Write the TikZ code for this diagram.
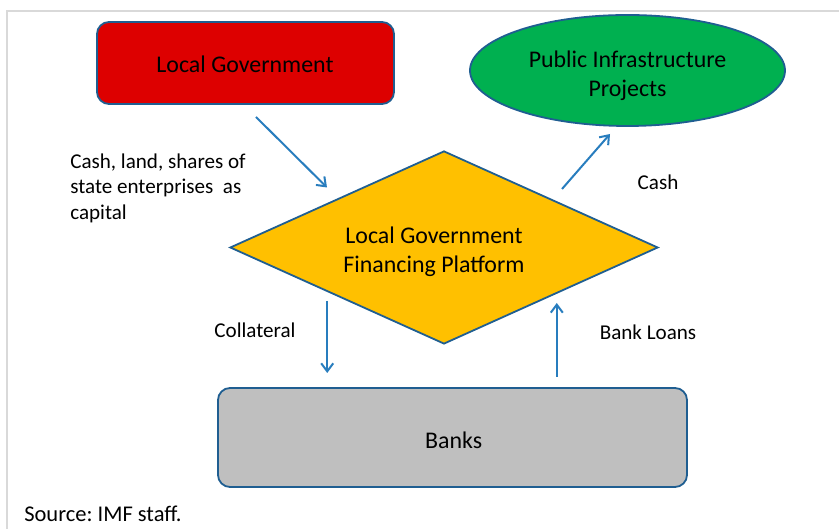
\documentclass[tikz,border=0pt]{standalone}
\usepackage{fontspec}
\setmainfont{Carlito}
\usetikzlibrary{arrows.meta,shapes.geometric}
\definecolor{govred}{RGB}{221,0,0}
\definecolor{projgreen}{RGB}{0,176,80}
\definecolor{platyellow}{RGB}{255,192,0}
\definecolor{bankgray}{RGB}{191,191,191}
\definecolor{edgeblue}{RGB}{31,94,145}
\definecolor{flowblue}{RGB}{40,125,190}
\definecolor{framegray}{RGB}{217,217,217}
\frenchspacing

\begin{document}
\begin{tikzpicture}[
	shapeline/.style={draw=edgeblue, line width=0.45mm},
	flow/.style={draw=flowblue, line width=0.5mm, -{Straight Barb[length=2mm,width=3mm]}},
	boxtext/.style={font=\fontsize{17}{20.5}\selectfont, align=center, inner sep=0},
	labeltext/.style={font=\fontsize{15}{18.2}\selectfont, align=left, inner sep=0}
	]
			%%%%% START %%%%%
			
			\useasboundingbox (0, 0) rectangle (20.975, 13.225);
			\draw[line width=0.3mm, color=framegray] (0.175, 0) -- (0.175, 12.95) -- (20.975, 12.95);
			
			\node[shapeline, fill=govred, rounded corners=3mm, minimum width=7.425cm, minimum height=2.05cm, boxtext] (localgov) at (6.1375, 11.65) {};
			\node[boxtext] (localgovtext) at (6.125, 11.61) {Local Government};
			\node[shapeline, fill=projgreen, ellipse, minimum width=7.875cm, minimum height=2.775cm, boxtext] (projects) at (15.6875, 11.4625) {};
			\node[boxtext] (projectstext) at (15.6875, 11.33) {Public Infrastructure\\Projects};
			\node[shapeline, fill=platyellow, diamond, aspect=2.2, minimum width=10.7cm, minimum height=4.825cm, boxtext] (platform) at (11.1, 7.0375) {};
			\node[boxtext] (platformtext) at (10.85, 6.93) {Local Government\\Financing Platform};
			\node[shapeline, fill=bankgray, rounded corners=3mm, minimum width=11.725cm, minimum height=2.475cm, boxtext] (banks) at (11.3125, 2.2875) {};
			\node[boxtext] (bankstext) at (11.34, 2.21) {Banks};
			
			\coordinate (govout) at (6.4, 10.3);
			\coordinate (platin) at (8.175, 8.5375);
			\coordinate (platout) at (14.05, 8.5);
			\coordinate (projin) at (15.25, 9.875);
			\coordinate (collfrom) at (8.18, 5.7);
			\coordinate (collto) at (8.18, 3.9);
			\coordinate (loanfrom) at (13.92, 3.8);
			\coordinate (loanto) at (13.92, 5.65);
			
			\draw[flow] (govout) -- (platin);
			\draw[flow] (platout) -- (projin);
			\draw[flow] (collfrom) -- (collto);
			\draw[flow] (loanfrom) -- (loanto);
			
			\node[labeltext, anchor=west] (capital) at (1.75, 8.525) {Cash, land, shares of\\state enterprises~~as\\capital};
			\node[labeltext] (cash) at (16.45, 8.675) {Cash};
			\node[labeltext] (collateral) at (6.375, 4.9575) {Collateral};
			\node[labeltext] (loans) at (16.2, 4.9075) {Bank Loans};
			
			\node[labeltext, anchor=west, font=\fontsize{16}{19}\selectfont] (source) at (0.6, 0.38) {Source: IMF staff.};
			
			%%%%% END %%%%%
		\end{tikzpicture}
\end{document}
